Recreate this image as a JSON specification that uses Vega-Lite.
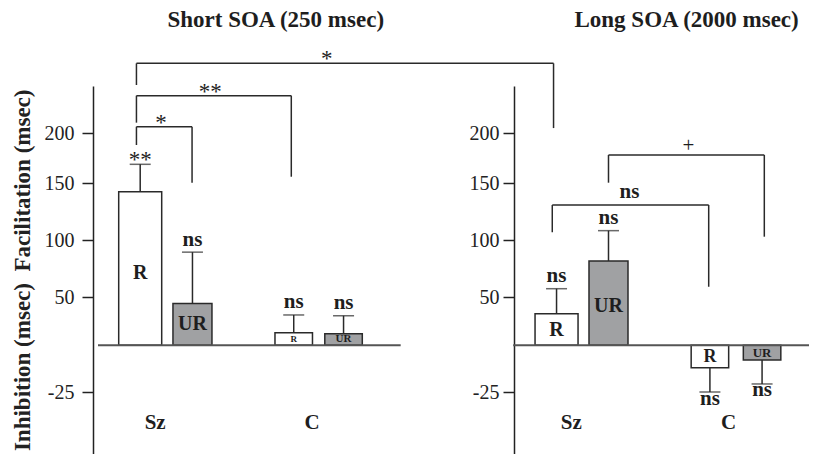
{
  "$schema": "https://vega.github.io/schema/vega-lite/v6.json",
  "width": 721,
  "height": 368,
  "autosize": {"type": "none"},
  "padding": {"left": 93, "top": 86, "right": 0, "bottom": 0},
  "background": "white",
  "config": {
    "view": {"stroke": null},
    "font": "Liberation Serif",
    "text": {"font": "Liberation Serif", "color": "#1e1e1e"}
  },
  "datasets": {
    "bars": [
      {"panel": "Short", "group": "Sz", "bar": "R", "pos": 0.831, "value": 142.4, "err": 168.8, "sig": "**"},
      {"panel": "Short", "group": "Sz", "bar": "UR", "pos": 1.86, "value": 43.5, "err": 89.4, "sig": "ns"},
      {"panel": "Short", "group": "C", "bar": "R", "pos": 3.854, "value": 13.1, "err": 31.6, "sig": "ns"},
      {"panel": "Short", "group": "C", "bar": "UR", "pos": 4.835, "value": 12.1, "err": 30.8, "sig": "ns"},
      {"panel": "Long", "group": "Sz", "bar": "R", "pos": 9.029, "value": 32.9, "err": 57.5, "sig": "ns"},
      {"panel": "Long", "group": "Sz", "bar": "UR", "pos": 10.052, "value": 81.7, "err": 108.2, "sig": "ns"},
      {"panel": "Long", "group": "C", "bar": "R", "pos": 12.049, "value": -12.0, "err": -25.0, "sig": "ns"},
      {"panel": "Long", "group": "C", "bar": "UR", "pos": 13.076, "value": -7.9, "err": -20.7, "sig": "ns"}
    ],
    "brackets": [
      {"x1": 0.757, "x2": 1.852, "top": 206.7, "left": 188.2, "right": 150.3, "label": "*", "lx": 1.24},
      {"x1": 0.757, "x2": 3.806, "top": 238.2, "left": 210.8, "right": 156.3, "label": "**", "lx": 2.208},
      {"x1": 0.757, "x2": 8.97, "top": 271.0, "left": 249.0, "right": 205.3, "label": "*", "lx": 4.505},
      {"x1": 10.052, "x2": 13.12, "top": 178.2, "left": 150.3, "right": 102.9, "label": "+", "lx": 11.625},
      {"x1": 8.945, "x2": 12.025, "top": 130.7, "left": 106.8, "right": 59.2, "label": "ns", "lx": 10.466}
    ],
    "baselines": [
      {"panel": "Short", "x1": 0, "x2": 5.96, "y": 0},
      {"panel": "Long", "x1": 8.175, "x2": 14, "y": 0}
    ],
    "groups": [
      {"label": "Sz", "pos": 1.126, "y": -41.6},
      {"label": "C", "pos": 4.214, "y": -41.6},
      {"label": "Sz", "pos": 9.32, "y": -41.6},
      {"label": "C", "pos": 12.417, "y": -41.6}
    ],
    "titles": [
      {"label": "Short SOA (250 msec)", "pos": 3.5, "y": 315},
      {"label": "Long SOA (2000 msec)", "pos": 11.59, "y": 315}
    ]
  },
  "resolve": {"scale": {"y": "independent"}, "axis": {"y": "independent"}},
  "layer": [
    {
      "layer": [
        {
          "data": {"name": "bars"},
          "mark": {"type": "bar", "stroke": "#2a2a2a", "strokeWidth": 1.5},
          "encoding": {
            "x": {"field": "pos", "type": "quantitative", "scale": {"domain": [0, 14], "nice": false, "zero": false}, "axis": null},
            "y": {
              "field": "value", "type": "quantitative",
              "scale": {"domain": [-58, -25, 0, 50, 100, 150, 200, 248], "range": [367.6, 306, 259.3, 211.3, 154, 97, 47.3, 0], "zero": false, "nice": false},
              "axis": {"orient": "left", "values": [-25, 50, 100, 150, 200], "labelExpr": "'' + datum.value", "title": "Inhibition (msec)\u00a0\u00a0Facilitation (msec)", "grid": false, "domainColor": "#222222", "domainWidth": 1.5, "tickColor": "#222222", "tickWidth": 1.5, "tickSize": 11, "labelFont": "Liberation Serif", "labelFontSize": 20, "labelColor": "#222222", "labelPadding": 8, "labelFlush": false, "labelOverlap": false, "titleFont": "Liberation Serif", "titleFontSize": 23, "titleFontWeight": "bold", "titleColor": "#222222", "titlePadding": 10}
            },
            "y2": {"datum": 0},
            "size": {"condition": [{"test": "datum.group === 'C'", "value": 37.5}, {"test": "datum.bar === 'R'", "value": 43}], "value": 39},
            "fill": {"field": "bar", "type": "nominal", "scale": {"domain": ["R", "UR"], "range": ["#ffffff", "#a0a1a3"]}, "legend": null}
          }
        },
        {
          "data": {"name": "baselines"},
          "transform": [{"filter": "datum.panel === 'Short'"}],
          "mark": {"type": "rule", "color": "#555555", "strokeWidth": 2},
          "encoding": {
            "x": {"field": "x1", "type": "quantitative", "axis": null},
            "x2": {"field": "x2"},
            "y": {"field": "y", "type": "quantitative"}
          }
        },
        {
          "data": {"name": "bars"},
          "mark": {"type": "rule", "color": "#2a2a2a", "strokeWidth": 1.5},
          "encoding": {
            "x": {"field": "pos", "type": "quantitative", "axis": null},
            "y": {"field": "value", "type": "quantitative"},
            "y2": {"field": "err"}
          }
        },
        {
          "data": {"name": "bars"},
          "mark": {"type": "tick", "orient": "horizontal", "size": 21, "thickness": 1.5, "color": "#2a2a2a"},
          "encoding": {
            "x": {"field": "pos", "type": "quantitative", "axis": null},
            "y": {"field": "err", "type": "quantitative"}
          }
        },
        {
          "data": {"name": "bars"},
          "transform": [{"calculate": "datum.value / 2", "as": "mid"}],
          "mark": {"type": "text", "fontWeight": "bold", "baseline": "middle", "align": "center"},
          "encoding": {
            "x": {"field": "pos", "type": "quantitative", "axis": null},
            "y": {"field": "mid", "type": "quantitative"},
            "text": {"field": "bar", "type": "nominal"},
            "size": {"condition": [
              {"test": "datum.panel === 'Short' && datum.group === 'C' && datum.bar === 'R'", "value": 9},
              {"test": "datum.panel === 'Short' && datum.group === 'C'", "value": 11},
              {"test": "datum.group === 'C' && datum.bar === 'UR'", "value": 13},
              {"test": "datum.group === 'C'", "value": 18}
            ], "value": 20}
          }
        },
        {
          "data": {"name": "bars"},
          "transform": [{"filter": "datum.sig === 'ns' && datum.value >= 0"}],
          "mark": {"type": "text", "fontWeight": "bold", "fontSize": 21, "baseline": "middle", "dy": -12.5},
          "encoding": {
            "x": {"field": "pos", "type": "quantitative", "axis": null},
            "y": {"field": "err", "type": "quantitative"},
            "text": {"field": "sig", "type": "nominal"}
          }
        },
        {
          "data": {"name": "bars"},
          "transform": [{"filter": "datum.sig === 'ns' && datum.value < 0"}],
          "mark": {"type": "text", "fontWeight": "bold", "fontSize": 21, "baseline": "middle", "dy": 6.5},
          "encoding": {
            "x": {"field": "pos", "type": "quantitative", "axis": null},
            "y": {"field": "err", "type": "quantitative"},
            "text": {"field": "sig", "type": "nominal"}
          }
        },
        {
          "data": {"name": "bars"},
          "transform": [{"filter": "datum.sig === '**'"}],
          "mark": {"type": "text", "fontWeight": "normal", "fontSize": 23, "baseline": "middle", "dy": -4.5},
          "encoding": {
            "x": {"field": "pos", "type": "quantitative", "axis": null},
            "y": {"field": "err", "type": "quantitative"},
            "text": {"field": "sig", "type": "nominal"}
          }
        },
        {
          "data": {"name": "brackets"},
          "mark": {"type": "rule", "color": "#2a2a2a", "strokeWidth": 1.5},
          "encoding": {
            "x": {"field": "x1", "type": "quantitative", "axis": null},
            "x2": {"field": "x2"},
            "y": {"field": "top", "type": "quantitative"}
          }
        },
        {
          "data": {"name": "brackets"},
          "mark": {"type": "rule", "color": "#2a2a2a", "strokeWidth": 1.5},
          "encoding": {
            "x": {"field": "x1", "type": "quantitative", "axis": null},
            "y": {"field": "top", "type": "quantitative"},
            "y2": {"field": "left"}
          }
        },
        {
          "data": {"name": "brackets"},
          "mark": {"type": "rule", "color": "#2a2a2a", "strokeWidth": 1.5},
          "encoding": {
            "x": {"field": "x2", "type": "quantitative", "axis": null},
            "y": {"field": "top", "type": "quantitative"},
            "y2": {"field": "right"}
          }
        },
        {
          "data": {"name": "brackets"},
          "transform": [{"filter": "datum.label === '*' || datum.label === '**'"}],
          "mark": {"type": "text", "fontWeight": "normal", "fontSize": 23, "baseline": "middle", "dy": -4},
          "encoding": {
            "x": {"field": "lx", "type": "quantitative", "axis": null},
            "y": {"field": "top", "type": "quantitative"},
            "text": {"field": "label", "type": "nominal"}
          }
        },
        {
          "data": {"name": "brackets"},
          "transform": [{"filter": "datum.label === '+'"}],
          "mark": {"type": "text", "fontWeight": "normal", "fontSize": 21, "baseline": "middle", "dy": -9},
          "encoding": {
            "x": {"field": "lx", "type": "quantitative", "axis": null},
            "y": {"field": "top", "type": "quantitative"},
            "text": {"field": "label", "type": "nominal"}
          }
        },
        {
          "data": {"name": "brackets"},
          "transform": [{"filter": "datum.label === 'ns'"}],
          "mark": {"type": "text", "fontWeight": "bold", "fontSize": 21, "baseline": "middle", "dy": -13.5},
          "encoding": {
            "x": {"field": "lx", "type": "quantitative", "axis": null},
            "y": {"field": "top", "type": "quantitative"},
            "text": {"field": "label", "type": "nominal"}
          }
        },
        {
          "data": {"name": "groups"},
          "mark": {"type": "text", "fontWeight": "bold", "fontSize": 21, "baseline": "middle"},
          "encoding": {
            "x": {"field": "pos", "type": "quantitative", "axis": null},
            "y": {"field": "y", "type": "quantitative"},
            "text": {"field": "label", "type": "nominal"}
          }
        },
        {
          "data": {"name": "titles"},
          "mark": {"type": "text", "fontWeight": "bold", "fontSize": 23, "baseline": "middle"},
          "encoding": {
            "x": {"field": "pos", "type": "quantitative", "axis": null},
            "y": {"field": "y", "type": "quantitative"},
            "text": {"field": "label", "type": "nominal"}
          }
        }
      ]
    },
    {
      "data": {"name": "baselines"},
      "transform": [{"filter": "datum.panel === 'Long'"}],
      "mark": {"type": "rule", "color": "#555555", "strokeWidth": 2},
      "encoding": {
        "x": {"field": "x1", "type": "quantitative", "axis": null},
        "x2": {"field": "x2"},
        "y": {
          "field": "y", "type": "quantitative",
          "scale": {"domain": [-58, -25, 0, 50, 100, 150, 200, 248], "range": [367.6, 306, 259.3, 211.3, 154, 97, 47.3, 0], "zero": false, "nice": false},
          "axis": {"orient": "left", "offset": -421, "title": null, "values": [-25, 50, 100, 150, 200], "labelExpr": "'' + datum.value", "grid": false, "domainColor": "#222222", "domainWidth": 1.5, "tickColor": "#222222", "tickWidth": 1.5, "tickSize": 11, "labelFont": "Liberation Serif", "labelFontSize": 20, "labelColor": "#222222", "labelPadding": 4, "labelFlush": false, "labelOverlap": false}
        }
      }
    }
  ]
}
